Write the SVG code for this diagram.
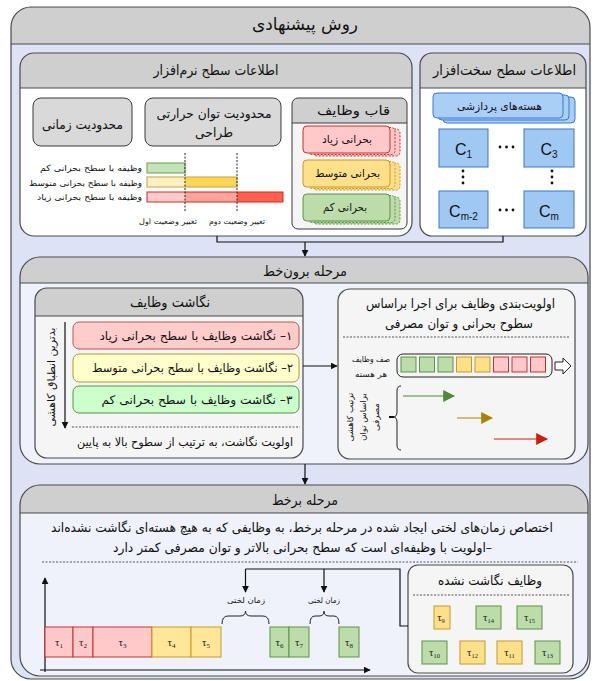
<svg xmlns="http://www.w3.org/2000/svg" width="593" height="681" viewBox="0 0 593 681">
<defs>
  <marker id="ah" viewBox="0 0 10 10" refX="9" refY="5" markerWidth="7" markerHeight="7" orient="auto" markerUnits="userSpaceOnUse">
    <path d="M0,0 L10,5 L0,10 Z" fill="#111"/>
  </marker>
  <marker id="ahG" viewBox="0 0 10 10" refX="9" refY="5" markerWidth="12" markerHeight="12" orient="auto" markerUnits="userSpaceOnUse">
    <path d="M0,0 L10,5 L0,10 Z" fill="#4f8a35"/>
  </marker>
  <marker id="ahY" viewBox="0 0 10 10" refX="9" refY="5" markerWidth="12" markerHeight="12" orient="auto" markerUnits="userSpaceOnUse">
    <path d="M0,0 L10,5 L0,10 Z" fill="#a88300"/>
  </marker>
  <marker id="ahR" viewBox="0 0 10 10" refX="9" refY="5" markerWidth="12" markerHeight="12" orient="auto" markerUnits="userSpaceOnUse">
    <path d="M0,0 L10,5 L0,10 Z" fill="#c81e0e"/>
  </marker>
</defs>
<style>
  .fa { font-family: "DejaVu Sans", "Noto Sans", sans-serif; direction: rtl; text-anchor: middle; fill: #111; }
  .lat { font-family: "Liberation Sans", Arial, sans-serif; text-anchor: middle; fill: #111; }
  .tau { font-family: "Liberation Serif", "Times New Roman", serif; text-anchor: middle; fill: #222; font-size: 11px; }
  .frame { fill: none; stroke: #4a4a4a; stroke-width: 1.2; }
  .hdr { fill: #cfcfcf; }
  .hline { stroke: #4a4a4a; stroke-width: 1.2; }
  .gbox { fill: #d9d9d9; stroke: #3a3a3a; stroke-width: 1; }
  .core { fill: #9fc8f3; stroke: #3b78bd; stroke-width: 1; }
  .red { fill: #ffc9c9; stroke: #c9302c; stroke-width: 1; }
  .yel { fill: #ffe08a; stroke: #c49a26; stroke-width: 1; }
  .grn { fill: #bcdcaa; stroke: #5f9148; stroke-width: 1; }
  .dash { stroke: #555; stroke-width: 1; stroke-dasharray: 2 1.5; fill: none; }
  .conn { stroke: #111; stroke-width: 1.2; fill: none; }
</style>

<!-- proposed method: outer container -->
<g id="proposed-method">
  <rect x="11" y="7" width="579" height="672" rx="20" fill="#dde3f4"/>
  <path class="hdr" d="M11,44 V27 A20,20 0 0 1 31,7 H570 A20,20 0 0 1 590,27 V44 Z"/>
  <line class="hline" x1="11" y1="44" x2="590" y2="44"/>
  <rect class="frame" x="11" y="7" width="579" height="672" rx="20"/>
  <text class="fa" x="305" y="30" font-size="17" textLength="106" lengthAdjust="spacingAndGlyphs">روش پیشنهادی</text>
</g>

<!-- software level information -->
<g id="software-level">
  <rect x="20" y="53" width="392" height="183" rx="14" fill="#ffffff"/>
  <path class="hdr" d="M20,88 V67 A14,14 0 0 1 34,53 H398 A14,14 0 0 1 412,67 V88 Z"/>
  <line class="hline" x1="20" y1="88" x2="412" y2="88"/>
  <rect class="frame" x="20" y="53" width="392" height="183" rx="14"/>
  <text class="fa" x="216" y="75" font-size="14" textLength="125" lengthAdjust="spacingAndGlyphs">اطلاعات سطح نرم‌افزار</text>

  <g id="time-constraint">
    <rect class="gbox" x="33" y="98" width="99" height="48" rx="8"/>
    <text class="fa" x="82.5" y="129" font-size="13" textLength="81" lengthAdjust="spacingAndGlyphs">محدودیت زمانی</text>
  </g>
  <g id="tdp-constraint">
    <rect class="gbox" x="145" y="98" width="136" height="48" rx="8"/>
    <text class="fa" x="214" y="118" font-size="13" textLength="115" lengthAdjust="spacingAndGlyphs">محدودیت توان حرارتی</text>
    <text class="fa" x="214" y="137" font-size="13" textLength="38" lengthAdjust="spacingAndGlyphs">طراحی</text>
  </g>

  <g id="task-frame">
    <rect x="292" y="98" width="115" height="131" rx="6" fill="#f5f5f5"/>
    <path class="hdr" d="M292,123 V104 A6,6 0 0 1 298,98 H401 A6,6 0 0 1 407,104 V123 Z"/>
    <line x1="292" y1="123" x2="407" y2="123" stroke="#3a3a3a" stroke-width="1"/>
    <rect x="292" y="98" width="115" height="131" rx="6" fill="none" stroke="#3a3a3a" stroke-width="1"/>
    <text class="fa" x="353.5" y="115" font-size="13" textLength="73" lengthAdjust="spacingAndGlyphs">قاب وظایف</text>

    <rect class="red" x="313" y="129" width="87" height="27" rx="4" stroke-dasharray="2 1.5"/>
    <rect class="red" x="308" y="127.5" width="87" height="27" rx="4" stroke-dasharray="2 1.5"/>
    <rect class="red" x="303" y="126" width="87" height="27" rx="4"/>
    <text class="fa" x="347" y="143" font-size="11" textLength="50" lengthAdjust="spacingAndGlyphs">بحرانی زیاد</text>

    <rect class="yel" x="313" y="163" width="87" height="27" rx="4" stroke-dasharray="2 1.5"/>
    <rect class="yel" x="308" y="161.5" width="87" height="27" rx="4" stroke-dasharray="2 1.5"/>
    <rect class="yel" x="303" y="160" width="87" height="27" rx="4"/>
    <text class="fa" x="347.5" y="177" font-size="11" textLength="65" lengthAdjust="spacingAndGlyphs">بحرانی متوسط</text>

    <rect class="grn" x="313" y="197" width="87" height="27" rx="4" stroke-dasharray="2 1.5"/>
    <rect class="grn" x="308" y="195.5" width="87" height="27" rx="4" stroke-dasharray="2 1.5"/>
    <rect class="grn" x="303" y="194" width="87" height="27" rx="4"/>
    <text class="fa" x="345" y="211" font-size="11" textLength="44" lengthAdjust="spacingAndGlyphs">بحرانی کم</text>
  </g>

  <g id="criticality-chart">
    <rect x="147" y="163" width="38" height="10" fill="#c5e3b8" stroke="#6b9e50" stroke-width="1"/>
    <rect x="147" y="177" width="38" height="10" fill="#fff0c2" stroke="none"/>
    <rect x="185" y="177" width="52" height="10" fill="#ffd555" stroke="none"/>
    <rect x="147" y="177" width="90" height="10" fill="none" stroke="#c0a040" stroke-width="1"/>
    <rect x="147" y="192" width="38" height="10" fill="#ffcaca" stroke="none"/>
    <rect x="185" y="192" width="52" height="10" fill="#ffa39b" stroke="none"/>
    <rect x="237" y="192" width="46" height="10" fill="#ff5f4d" stroke="none"/>
    <rect x="147" y="192" width="136" height="10" fill="none" stroke="#cc2a20" stroke-width="1"/>
    <line x1="185" y1="153" x2="185" y2="212" stroke="#222" stroke-width="1" stroke-dasharray="2 1.5"/>
    <line x1="237" y1="153" x2="237" y2="212" stroke="#222" stroke-width="1" stroke-dasharray="2 1.5"/>
    <text class="fa" x="91" y="171" font-size="8.5" textLength="102" lengthAdjust="spacingAndGlyphs">وظیفه با سطح بحرانی کم</text>
    <text class="fa" x="85.5" y="186" font-size="8.5" textLength="113" lengthAdjust="spacingAndGlyphs">وظیفه با سطح بحرانی متوسط</text>
    <text class="fa" x="89.5" y="200" font-size="8.5" textLength="105" lengthAdjust="spacingAndGlyphs">وظیفه با سطح بحرانی زیاد</text>
    <text class="fa" x="168" y="224" font-size="7.5" textLength="58" lengthAdjust="spacingAndGlyphs">تغییر وضعیت اول</text>
    <text class="fa" x="237" y="224" font-size="7.5" textLength="56" lengthAdjust="spacingAndGlyphs">تغییر وضعیت دوم</text>
  </g>
</g>

<!-- hardware level information -->
<g id="hardware-level">
  <rect x="420" y="53" width="166" height="183" rx="12" fill="#ffffff"/>
  <path class="hdr" d="M420,88 V65 A12,12 0 0 1 432,53 H574 A12,12 0 0 1 586,65 V88 Z"/>
  <line class="hline" x1="420" y1="88" x2="586" y2="88"/>
  <rect class="frame" x="420" y="53" width="166" height="183" rx="12"/>
  <text class="fa" x="504.5" y="75" font-size="14" textLength="143" lengthAdjust="spacingAndGlyphs">اطلاعات سطح سخت‌افزار</text>

  <g id="processing-cores">
    <rect x="443" y="97" width="132" height="26" rx="4" fill="#a9cff7" stroke="#3b78d0" stroke-width="1"/>
    <rect x="438" y="95" width="131" height="25" rx="4" fill="#a9cff7" stroke="#3b78d0" stroke-width="1"/>
    <rect x="433" y="93" width="130" height="25" rx="4" fill="#a9cff7" stroke="#3b78d0" stroke-width="1"/>
    <text class="fa" x="499.5" y="110" font-size="11" textLength="85" lengthAdjust="spacingAndGlyphs">هسته‌های پردازشی</text>
  </g>

  <g id="core-c1">
    <rect class="core" x="439" y="129" width="49" height="38"/>
    <text class="lat" x="463.5" y="155" font-size="16">C<tspan font-size="10" dy="3">1</tspan></text>
  </g>
  <g id="core-c3">
    <rect class="core" x="524" y="129" width="50" height="38"/>
    <text class="lat" x="549" y="155" font-size="16">C<tspan font-size="10" dy="3">3</tspan></text>
  </g>
  <g id="core-cm2">
    <rect class="core" x="439" y="191" width="49" height="37"/>
    <text class="lat" x="463.5" y="217" font-size="16">C<tspan font-size="10" dy="3">m-2</tspan></text>
  </g>
  <g id="core-cm">
    <rect class="core" x="524" y="191" width="50" height="37"/>
    <text class="lat" x="549" y="217" font-size="16">C<tspan font-size="10" dy="3">m</tspan></text>
  </g>
  <g id="core-ellipses" fill="#111">
    <circle cx="500" cy="147" r="1.4"/><circle cx="506.5" cy="147" r="1.4"/><circle cx="513" cy="147" r="1.4"/>
    <circle cx="500" cy="210" r="1.4"/><circle cx="506.5" cy="210" r="1.4"/><circle cx="513" cy="210" r="1.4"/>
    <circle cx="463" cy="171" r="1.4"/><circle cx="463" cy="177" r="1.4"/><circle cx="463" cy="183" r="1.4"/>
    <circle cx="552" cy="171" r="1.4"/><circle cx="552" cy="177" r="1.4"/><circle cx="552" cy="183" r="1.4"/>
  </g>
</g>

<!-- offline stage -->
<g id="offline-stage">
  <rect x="20" y="257" width="568" height="207" rx="20" fill="#eff2fa"/>
  <path class="hdr" d="M20,283 V277 A20,20 0 0 1 40,257 H568 A20,20 0 0 1 588,277 V283 Z"/>
  <line class="hline" x1="20" y1="283" x2="588" y2="283"/>
  <rect class="frame" x="20" y="257" width="568" height="207" rx="20"/>
  <text class="fa" x="305" y="276" font-size="14" textLength="84" lengthAdjust="spacingAndGlyphs">مرحله برون‌خط</text>
</g>

<g id="task-mapping">
  <rect x="35" y="288" width="268" height="170" rx="12" fill="#f5f5f5"/>
  <path class="hdr" d="M35,316 V300 A12,12 0 0 1 47,288 H291 A12,12 0 0 1 303,300 V316 Z"/>
  <line class="hline" x1="35" y1="316" x2="303" y2="316"/>
  <rect class="frame" x="35" y="288" width="268" height="170" rx="12"/>
  <text class="fa" x="170" y="307" font-size="14" textLength="80" lengthAdjust="spacingAndGlyphs">نگاشت وظایف</text>

  <rect x="73" y="322" width="226" height="27" rx="6" fill="#ffcccc" stroke="#b85450" stroke-width="1"/>
  <text class="fa" x="196" y="340" font-size="12" textLength="193" lengthAdjust="spacingAndGlyphs">&#x200F;۱– نگاشت وظایف با سطح بحرانی زیاد</text>
  <rect x="73" y="354" width="226" height="28" rx="6" fill="#ffffcc" stroke="#b09a2e" stroke-width="1"/>
  <text class="fa" x="192.5" y="372" font-size="12" textLength="201" lengthAdjust="spacingAndGlyphs">&#x200F;۲– نگاشت وظایف با سطح بحرانی متوسط</text>
  <rect x="73" y="386" width="226" height="27" rx="6" fill="#ccffcc" stroke="#4d9a3a" stroke-width="1"/>
  <text class="fa" x="197" y="404" font-size="12" textLength="191" lengthAdjust="spacingAndGlyphs">&#x200F;۳– نگاشت وظایف با سطح بحرانی کم</text>

  <line x1="65" y1="322" x2="65" y2="428" stroke="#111" stroke-width="1.2" marker-end="url(#ah)"/>
  <text class="fa" transform="translate(55,377) rotate(-90)" font-size="11" textLength="99" lengthAdjust="spacingAndGlyphs">بدترین انطباق کاهشی</text>
  <line class="dash" x1="72" y1="427" x2="300" y2="427"/>
  <text class="fa" x="185" y="446" font-size="11.5" textLength="216" lengthAdjust="spacingAndGlyphs">اولویت نگاشت، به ترتیب از سطوح بالا به پایین</text>
</g>

<g id="task-prioritization">
  <rect x="338" y="289" width="237" height="170" rx="12" fill="#f5f5f5" stroke="#4a4a4a" stroke-width="1.2"/>
  <text class="fa" x="460.5" y="308" font-size="13" textLength="189" lengthAdjust="spacingAndGlyphs">اولویت‌بندی وظایف برای اجرا براساس</text>
  <text class="fa" x="459" y="328" font-size="13" textLength="148" lengthAdjust="spacingAndGlyphs">سطوح بحرانی و توان مصرفی</text>
  <line class="dash" x1="343" y1="337" x2="570" y2="337"/>

  <text class="fa" x="371" y="362" font-size="8" textLength="38" lengthAdjust="spacingAndGlyphs">صف وظایف</text>
  <text class="fa" x="371" y="377" font-size="8" textLength="32" lengthAdjust="spacingAndGlyphs">هر هسته</text>
  <rect x="397" y="354" width="155" height="23" rx="6" fill="none" stroke="#222" stroke-width="1"/>
  <rect class="grn" x="401" y="357" width="15" height="15"/>
  <rect class="grn" x="419.5" y="357" width="15" height="15"/>
  <rect class="grn" x="438" y="357" width="15" height="15"/>
  <rect class="yel" x="456.5" y="357" width="15" height="15"/>
  <rect class="yel" x="475" y="357" width="15" height="15"/>
  <rect class="red" x="493.5" y="357" width="15" height="15"/>
  <rect class="red" x="512" y="357" width="15" height="15"/>
  <rect class="red" x="530.5" y="357" width="15" height="15"/>
  <polygon points="555,362 563,362 563,358 571,366 563,374 563,370 555,370" fill="#fff" stroke="#222" stroke-width="1"/>

  <path d="M401,386 Q397,386 397,391 V412 Q397,417 393,417 Q397,417 397,422 V445 Q397,450 401,450" fill="none" stroke="#222" stroke-width="1"/>
  <line x1="389" y1="417" x2="394" y2="417" stroke="#111" stroke-width="2"/>
  <text class="fa" transform="translate(353,417) rotate(-90)" font-size="8.5">ترتیب کاهشی</text>
  <text class="fa" transform="translate(366,417) rotate(-90)" font-size="8.5">براساس توان</text>
  <text class="fa" transform="translate(379,417) rotate(-90)" font-size="8.5">مصرفی</text>

  <line x1="403" y1="396" x2="454" y2="396" stroke="#4f8a35" stroke-width="1.2" marker-end="url(#ahG)"/>
  <line x1="457" y1="418" x2="492" y2="418" stroke="#a88300" stroke-width="1.2" marker-end="url(#ahY)"/>
  <line x1="494" y1="439" x2="547" y2="439" stroke="#c81e0e" stroke-width="1.2" marker-end="url(#ahR)"/>
</g>

<!-- online stage -->
<g id="online-stage">
  <rect x="20" y="485" width="568" height="191" rx="20" fill="#eff2fa"/>
  <path class="hdr" d="M20,513 V505 A20,20 0 0 1 40,485 H568 A20,20 0 0 1 588,505 V513 Z"/>
  <line class="hline" x1="20" y1="513" x2="588" y2="513"/>
  <rect class="frame" x="20" y="485" width="568" height="191" rx="20"/>
  <text class="fa" x="305" y="505" font-size="14" textLength="66" lengthAdjust="spacingAndGlyphs">مرحله برخط</text>
  <text class="fa" x="302" y="532" font-size="13" textLength="502" lengthAdjust="spacingAndGlyphs">اختصاص زمان‌های لختی ایجاد شده در مرحله برخط، به وظایفی که به هیچ هسته‌ای نگاشت نشده‌اند</text>
  <text class="fa" x="302.5" y="552" font-size="13" textLength="379" lengthAdjust="spacingAndGlyphs">&#x200F;–اولویت با وظیفه‌ای است که سطح بحرانی بالاتر و توان مصرفی کمتر دارد</text>
  <line class="dash" x1="42" y1="562" x2="578" y2="562"/>
</g>

<g id="schedule-timeline">
  <line x1="45" y1="672" x2="45" y2="578" stroke="#111" stroke-width="1.2" marker-end="url(#ah)"/>
  <line x1="40" y1="670" x2="370" y2="670" stroke="#111" stroke-width="1.2" marker-end="url(#ah)"/>
  <rect class="red" x="45" y="627" width="28" height="30"/>
  <rect class="red" x="73" y="627" width="20" height="30"/>
  <rect class="red" x="93" y="627" width="59" height="30"/>
  <rect class="yel" x="152" y="627" width="39" height="30" style="fill:#ffe699"/>
  <rect class="yel" x="191" y="627" width="30" height="30" style="fill:#ffe699"/>
  <rect class="grn" x="270" y="627" width="19" height="30"/>
  <rect class="grn" x="289" y="627" width="20" height="30"/>
  <rect class="grn" x="339" y="627" width="20" height="30"/>
  <text class="tau" x="59" y="646">τ<tspan font-size="7" dy="2">1</tspan></text>
  <text class="tau" x="83" y="646">τ<tspan font-size="7" dy="2">2</tspan></text>
  <text class="tau" x="122.5" y="646">τ<tspan font-size="7" dy="2">3</tspan></text>
  <text class="tau" x="171.5" y="646">τ<tspan font-size="7" dy="2">4</tspan></text>
  <text class="tau" x="206" y="646">τ<tspan font-size="7" dy="2">5</tspan></text>
  <text class="tau" x="279.5" y="646">τ<tspan font-size="7" dy="2">6</tspan></text>
  <text class="tau" x="299" y="646">τ<tspan font-size="7" dy="2">7</tspan></text>
  <text class="tau" x="349" y="646">τ<tspan font-size="7" dy="2">8</tspan></text>

  <path d="M222,624 Q222,616 228,616 H240 Q245.5,616 245.5,611 Q245.5,616 251,616 H263 Q269,616 269,624" fill="none" stroke="#222" stroke-width="1"/>
  <path d="M310,624 Q310,616 315,616 H319 Q324,616 324,611 Q324,616 329,616 H334 Q339,616 339,624" fill="none" stroke="#222" stroke-width="1"/>
  <text class="fa" x="246" y="603" font-size="8" textLength="38" lengthAdjust="spacingAndGlyphs">زمان لختی</text>
  <text class="fa" x="324" y="603" font-size="8" textLength="32" lengthAdjust="spacingAndGlyphs">زمان لختی</text>
</g>

<g id="unmapped-tasks">
  <rect x="408" y="565" width="165" height="108" rx="10" fill="#f5f5f5" stroke="#4a4a4a" stroke-width="1.2"/>
  <text class="fa" x="490" y="585" font-size="13" textLength="104" lengthAdjust="spacingAndGlyphs">وظایف نگاشت نشده</text>
  <line class="dash" x1="413" y1="595" x2="570" y2="595"/>
  <rect class="yel" x="434" y="606" width="16" height="23"/>
  <rect class="grn" x="476" y="606" width="25" height="23"/>
  <rect class="grn" x="517" y="606" width="25" height="23"/>
  <rect class="grn" x="422" y="641" width="25" height="23"/>
  <rect class="yel" x="460" y="641" width="25" height="23"/>
  <rect class="yel" x="497" y="641" width="25" height="23"/>
  <rect class="grn" x="535" y="641" width="25" height="23"/>
  <text class="tau" x="441" y="621" font-size="10">τ<tspan font-size="6.5" dy="2">9</tspan></text>
  <text class="tau" x="488.5" y="621" font-size="10">τ<tspan font-size="6.5" dy="2">14</tspan></text>
  <text class="tau" x="529.5" y="621" font-size="10">τ<tspan font-size="6.5" dy="2">15</tspan></text>
  <text class="tau" x="434.5" y="656" font-size="10">τ<tspan font-size="6.5" dy="2">10</tspan></text>
  <text class="tau" x="472.5" y="656" font-size="10">τ<tspan font-size="6.5" dy="2">12</tspan></text>
  <text class="tau" x="509.5" y="656" font-size="10">τ<tspan font-size="6.5" dy="2">11</tspan></text>
  <text class="tau" x="547.5" y="656" font-size="10">τ<tspan font-size="6.5" dy="2">13</tspan></text>
</g>

<!-- connectors -->
<g id="connectors">
  <polyline class="conn" points="217,236 217,242 503,242 503,236"/>
  <line class="conn" x1="305" y1="242" x2="305" y2="256" marker-end="url(#ah)"/>
  <line class="conn" x1="303" y1="366" x2="337" y2="366" marker-end="url(#ah)"/>
  <line class="conn" x1="305" y1="464" x2="305" y2="484" marker-end="url(#ah)"/>
  <polyline class="conn" points="408,626 400,626 400,569 245.5,569"/>
  <line class="conn" x1="245.5" y1="569" x2="245.5" y2="592" marker-end="url(#ah)"/>
  <line class="conn" x1="324" y1="569" x2="324" y2="592" marker-end="url(#ah)"/>
</g>
</svg>
